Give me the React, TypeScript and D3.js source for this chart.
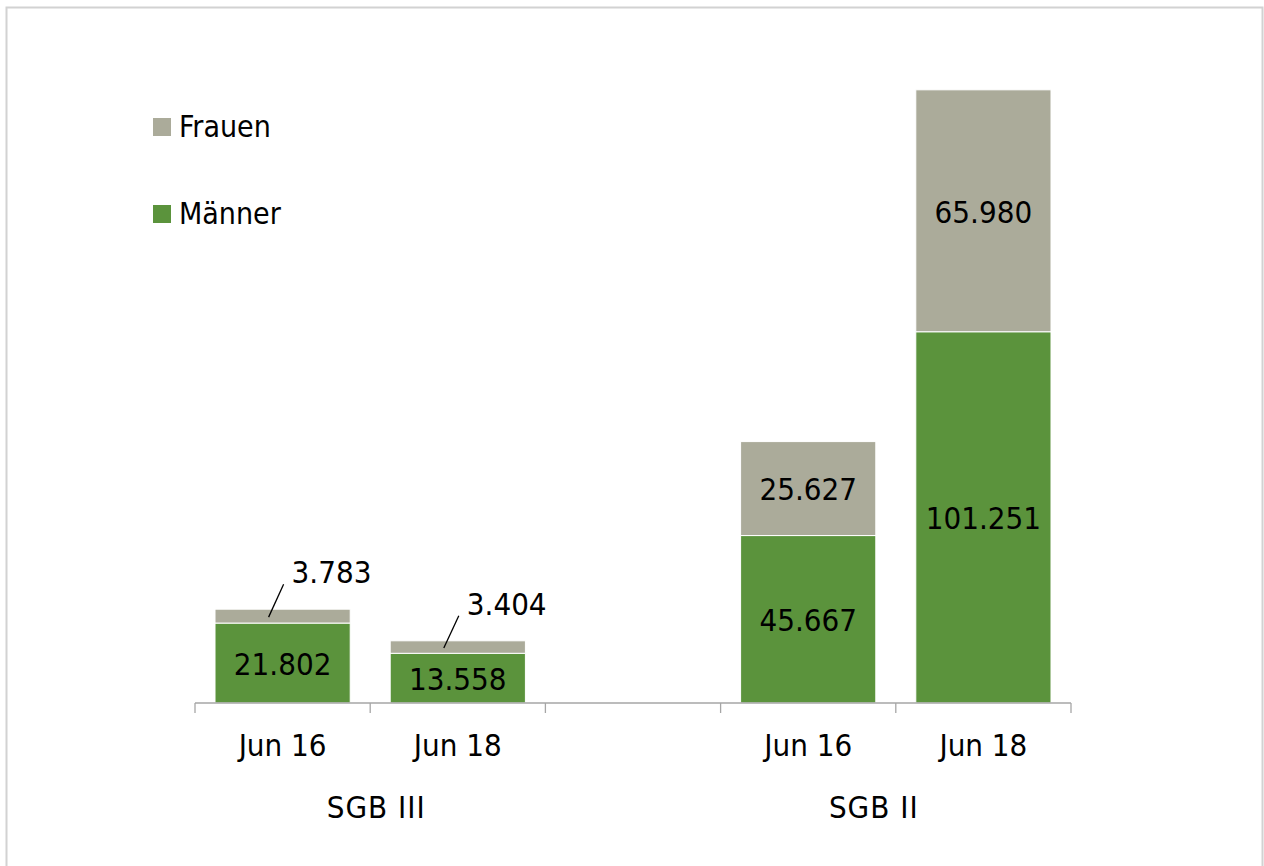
import { useEffect, useRef } from 'react';
import * as d3 from 'd3';

const categories = ['Jun 16', 'Jun 18', '', 'Jun 16', 'Jun 18'];
const slotKeys = ['s3-16', 's3-18', 'gap', 's2-16', 's2-18'];
const maenner = [21802, 13558, null, 45667, 101251];
const frauen = [3783, 3404, null, 25627, 65980];
const groups = [
  { label: 'SGB III', from: 0, to: 1, nudge: 6 },
  { label: 'SGB II', from: 3, to: 4, nudge: -22 },
];
const seriesNames = ['Frauen', 'Männer'];
const seriesColors = ['#abab9a', '#5b933c'];

const WIDTH = 1264;
const HEIGHT = 866;
const FONT = '"DejaVu Sans Condensed", "DejaVu Sans", sans-serif';

const fmt = (v: number) => d3.format(',')(v).replace(/,/g, '.');

export default function App() {
  const svgRef = useRef<SVGSVGElement>(null);

  useEffect(() => {
    if (!svgRef.current) return;
    const svg = d3.select(svgRef.current);
    svg.selectAll('*').remove();

    // chart frame
    svg
      .append('rect')
      .attr('x', 6.5)
      .attr('y', 7.5)
      .attr('width', 1256)
      .attr('height', 900)
      .attr('fill', '#fff')
      .attr('stroke', '#d2d2d2')
      .attr('stroke-width', 2);

    const x = d3.scaleBand<string>().domain(slotKeys).range([195, 1071]).paddingInner(0.2283).paddingOuter(0.1142);
    const slot = d3.scaleBand<string>().domain(slotKeys).range([195, 1071]);
    const y = d3.scaleLinear().domain([0, 180000]).range([703, 43]);

    const rows = slotKeys.map((k, i) => ({ key: k, m: maenner[i], f: frauen[i] }));
    const bars = rows.filter((r) => r.m != null);

    // Männer
    svg
      .append('g')
      .selectAll('rect')
      .data(bars)
      .enter()
      .append('rect')
      .attr('x', (d) => x(d.key)!)
      .attr('width', x.bandwidth())
      .attr('y', (d) => y(d.m!))
      .attr('height', (d) => y(0) - y(d.m!))
      .attr('fill', seriesColors[1])
      .attr('stroke', '#fff')
      .attr('stroke-width', 1);

    // Frauen
    svg
      .append('g')
      .selectAll('rect')
      .data(bars)
      .enter()
      .append('rect')
      .attr('x', (d) => x(d.key)!)
      .attr('width', x.bandwidth())
      .attr('y', (d) => y(d.m! + d.f!))
      .attr('height', (d) => y(d.m!) - y(d.m! + d.f!))
      .attr('fill', seriesColors[0])
      .attr('stroke', '#fff')
      .attr('stroke-width', 1);

    const cx = (k: string) => x(k)! + x.bandwidth() / 2;

    // value labels Männer
    svg
      .append('g')
      .selectAll('text')
      .data(bars)
      .enter()
      .append('text')
      .attr('x', (d) => cx(d.key))
      .attr('y', (d) => (y(0) + y(d.m!)) / 2)
      .attr('dy', '0.38em')
      .attr('text-anchor', 'middle')
      .attr('font-family', FONT)
      .attr('font-size', 31)
      .attr('fill', '#000')
      .text((d) => fmt(d.m!));

    // value labels Frauen (big segments inside, small ones outside with leader)
    const big = bars.filter((d) => y(d.m!) - y(d.m! + d.f!) > 40);
    const small = bars.filter((d) => y(d.m!) - y(d.m! + d.f!) <= 40);

    svg
      .append('g')
      .selectAll('text')
      .data(big)
      .enter()
      .append('text')
      .attr('x', (d) => cx(d.key))
      .attr('y', (d) => (y(d.m!) + y(d.m! + d.f!)) / 2)
      .attr('dy', '0.38em')
      .attr('text-anchor', 'middle')
      .attr('font-family', FONT)
      .attr('font-size', 31)
      .attr('fill', '#000')
      .text((d) => fmt(d.f!));

    const sg = svg.append('g');
    sg.selectAll('line')
      .data(small)
      .enter()
      .append('line')
      .attr('x1', (d) => cx(d.key) - 14)
      .attr('y1', (d) => (y(d.m!) + y(d.m! + d.f!)) / 2 + 1)
      .attr('x2', (d) => cx(d.key) + 1)
      .attr('y2', (d) => y(d.m! + d.f!) - 25)
      .attr('stroke', '#000')
      .attr('stroke-width', 1.3);
    sg.selectAll('text')
      .data(small)
      .enter()
      .append('text')
      .attr('x', (d) => cx(d.key) + 9)
      .attr('y', (d) => y(d.m! + d.f!) - 26)
      .attr('font-family', FONT)
      .attr('font-size', 31)
      .attr('fill', '#000')
      .text((d) => fmt(d.f!));

    // category axis
    const ax = svg.append('g').attr('stroke', '#a6a6a6').attr('stroke-width', 1.3);
    ax.append('line').attr('x1', 195).attr('x2', 1071).attr('y1', y(0)).attr('y2', y(0));
    const tickXs = slotKeys.map((k) => slot(k)!).concat([slot(slotKeys[slotKeys.length - 1])! + slot.bandwidth()]);
    ax.selectAll('line.tick')
      .data(tickXs)
      .enter()
      .append('line')
      .attr('class', 'tick')
      .attr('x1', (d) => d)
      .attr('x2', (d) => d)
      .attr('y1', y(0))
      .attr('y2', y(0) + 10);

    svg
      .append('g')
      .selectAll('text')
      .data(slotKeys.map((k, i) => ({ k, label: categories[i] })).filter((d) => d.label))
      .enter()
      .append('text')
      .attr('x', (d) => cx(d.k))
      .attr('y', 756)
      .attr('text-anchor', 'middle')
      .attr('font-family', FONT)
      .attr('font-size', 31)
      .attr('fill', '#000')
      .text((d) => d.label);

    svg
      .append('g')
      .selectAll('text')
      .data(groups)
      .enter()
      .append('text')
      .attr('x', (g) => (slot(slotKeys[g.from])! + slot(slotKeys[g.to])! + slot.bandwidth()) / 2 + g.nudge)
      .attr('y', 818)
      .attr('text-anchor', 'middle')
      .attr('font-family', FONT)
      .attr('font-size', 31)
      .attr('letter-spacing', 1)
      .attr('fill', '#000')
      .text((g) => g.label);

    // legend
    const lg = svg
      .append('g')
      .selectAll('g')
      .data(seriesNames)
      .enter()
      .append('g')
      .attr('transform', (_, i) => `translate(153, ${118 + i * 87})`);
    lg.append('rect')
      .attr('width', 18)
      .attr('height', 18)
      .attr('fill', (_, i) => seriesColors[i]);
    lg.append('text')
      .attr('x', 26)
      .attr('y', 19)
      .attr('font-family', FONT)
      .attr('font-size', 30)
      .attr('fill', '#000')
      .text((d) => d);
  }, []);

  return (
    <svg
      ref={svgRef}
      width={WIDTH}
      height={HEIGHT}
      style={{ position: 'absolute', left: 0, top: 0, display: 'block' }}
    />
  );
}
